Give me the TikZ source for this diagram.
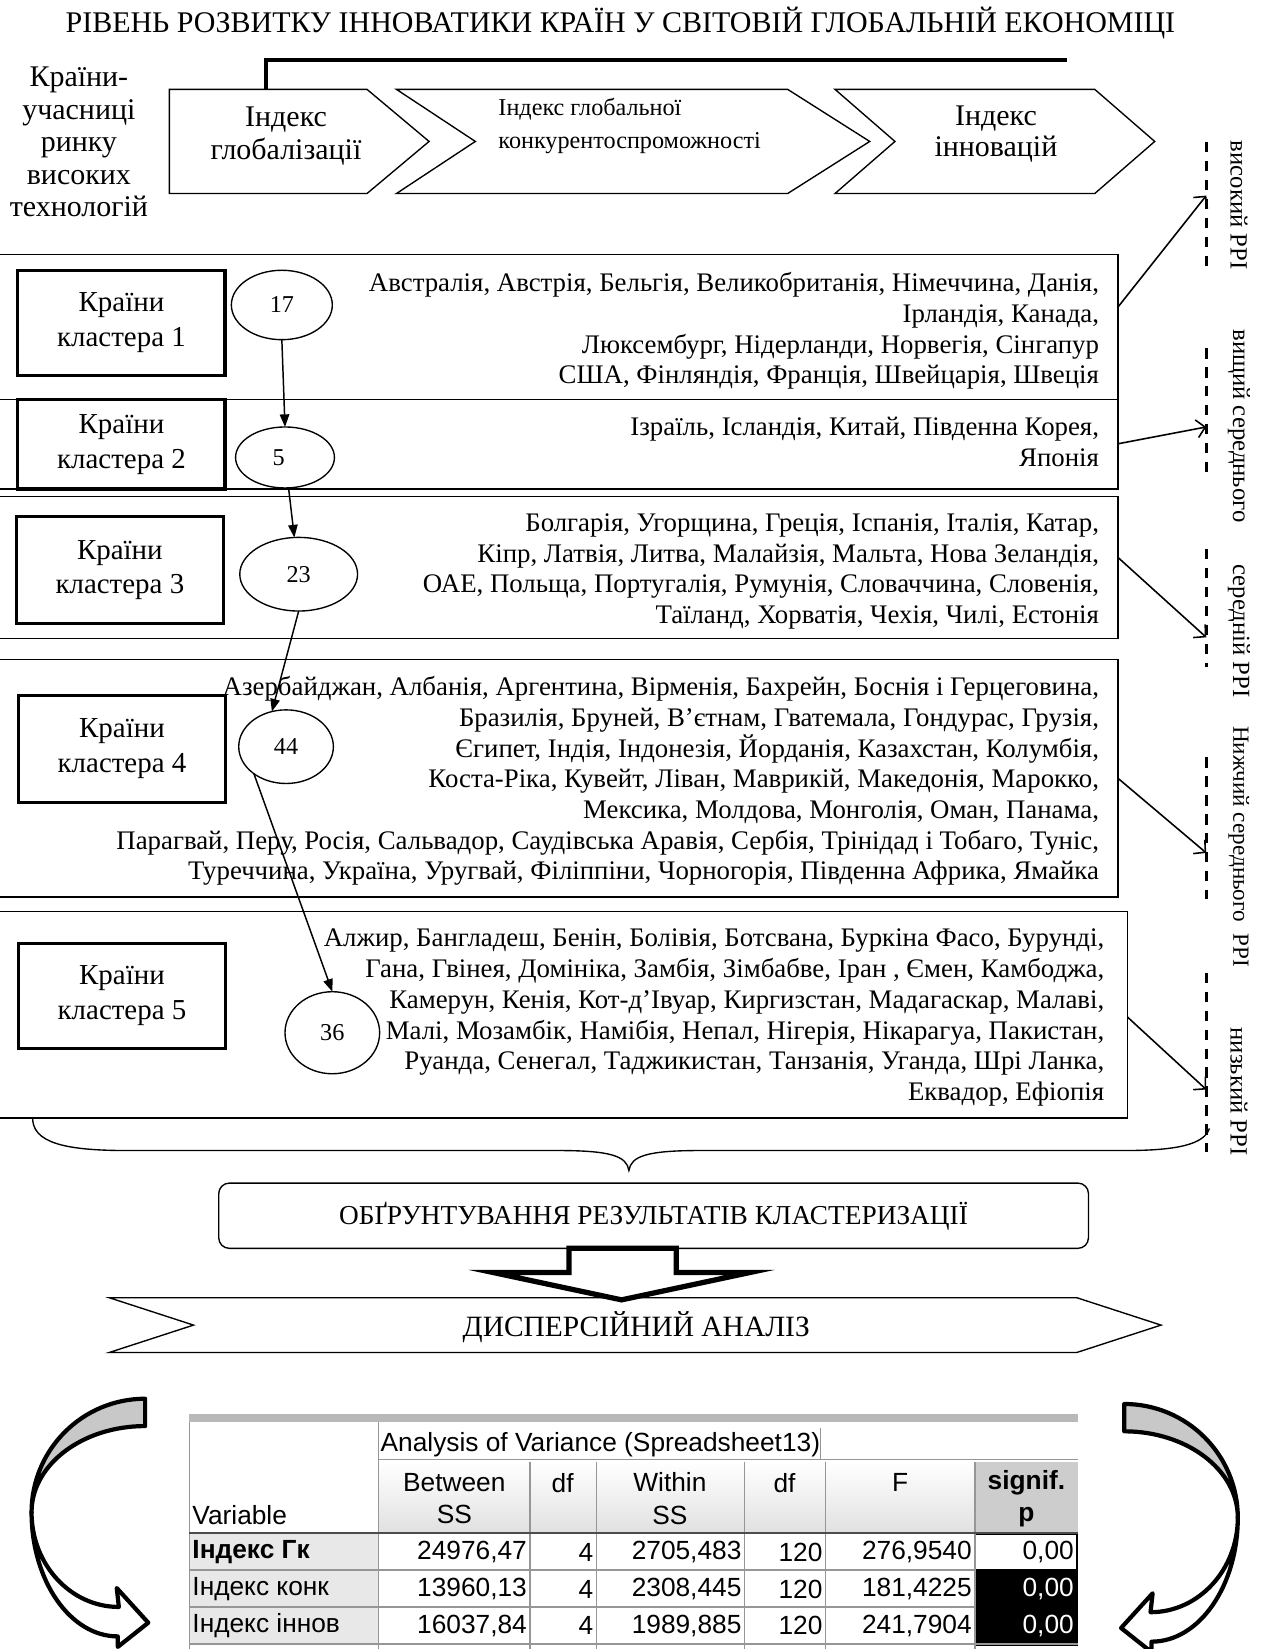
\documentclass[tikz,border=0pt]{standalone}
\usepackage{fontspec}
\setmainfont{Liberation Serif}
\newfontfamily\tabfont{Liberation Sans}
\usetikzlibrary{shapes.geometric,arrows.meta,calc}
\definecolor{bandgrey}{RGB}{200,200,200}
\definecolor{gridgrey}{RGB}{150,150,150}
\definecolor{cellgrey}{RGB}{232,232,232}
\definecolor{pgrey}{RGB}{205,205,205}

\begin{document}
\begin{tikzpicture}[x=1pt,y=-1pt,
  every node/.style={inner sep=0pt,outer sep=0pt},
  bigtext/.style={font=\fontsize{28.5}{31.5}\selectfont,align=center},
  midtext/.style={font=\fontsize{23}{31}\selectfont,align=left},
  listtext/.style={font=\fontsize{25.5}{29.2}\selectfont,align=right,anchor=north east},
  bandbox/.style={draw,line width=1.3pt,rectangle},
  clusterbox/.style={draw,line width=3pt,minimum width=197pt,font=\fontsize{27.5}{33}\selectfont,align=center},
  countnode/.style={draw,ellipse,line width=1.3pt,font=\fontsize{23}{26}\selectfont},
  flowarrow/.style={line width=1.4pt,-{Triangle[length=12pt,width=9pt]}},
  levelarrow/.style={line width=1.5pt,-{Straight Barb[length=8pt,width=17pt,line width=1.5pt]}},
  guideline/.style={line width=2.6pt,dash pattern=on 10pt off 8pt},
  sidetext/.style={rotate=-90,font=\fontsize{23.5}{28}\selectfont},
  captext/.style={font=\fontsize{26}{30}\selectfont},
  tabtext/.style={font=\tabfont\fontsize{25}{31}\selectfont},
  tabbold/.style={font=\tabfont\bfseries\fontsize{25}{31}\selectfont},
  bentarrow/.style={line width=4pt,line join=round},
]
\useasboundingbox (0,0) rectangle (1201,1568);
\clip (0,0) rectangle (1201,1568);
\fill[white] (0,0) rectangle (1201,1568);

% ---------- heading ----------
\node[bigtext] (title) at (590,22) {РІВЕНЬ РОЗВИТКУ ІННОВАТИКИ КРАЇН У СВІТОВІЙ ГЛОБАЛЬНІЙ ЕКОНОМІЦІ};
\node[bigtext,font=\fontsize{28.5}{31}\selectfont] (members) at (75,135) {Країни-\\учасниці\\ринку\\високих\\технологій};

% ---------- index chevrons ----------
\draw[line width=1.3pt] (161,85) -- (349,85) -- (408,134.5) -- (349,184) -- (161,184) -- cycle;
\draw[line width=1.3pt] (377,85) -- (749,85) -- (827,134.5) -- (749,184) -- (377,184) -- (452,134.5) -- cycle;
\draw[line width=1.3pt] (794,85) -- (1041,85) -- (1098,134.5) -- (1041,184) -- (794,184) -- (851,134.5) -- cycle;
\draw[line width=3pt] (253,85) -- (253,57) -- (1015,57);
\node[bigtext] (iglob) at (272,129) {Індекс\\глобалізації};
\node[midtext,anchor=west] (icomp) at (474,120) {Індекс глобальної\\конкурентоспроможності};
\node[bigtext,font=\fontsize{28.5}{30}\selectfont] (iinn) at (947,127.5) {Індекс\\інновацій};

% ---------- cluster bands ----------
\node[bandbox,minimum width=1083pt,minimum height=138pt] (band1) at (521.5,311) {};
\node[bandbox,minimum width=1083pt,minimum height=85pt] (band2) at (521.5,422.5) {};
\node[bandbox,minimum width=1083pt,minimum height=135pt] (band3) at (521.5,539.5) {};
\node[bandbox,minimum width=1083pt,minimum height=226pt] (band4) at (521.5,740) {};
\node[bandbox,minimum width=1092pt,minimum height=196pt] (band5) at (526,965) {};

\node[clusterbox,minimum height=100pt] (k1) at (115.5,307) {Країни\\кластера 1};
\node[clusterbox,minimum height=85pt] (k2) at (115.5,422.5) {Країни\\кластера 2};
\node[clusterbox,minimum height=102pt] (k3) at (114,542) {Країни\\кластера 3};
\node[clusterbox,minimum height=102pt] (k4) at (116,712) {Країни\\кластера 4};
\node[clusterbox,minimum height=100pt] (k5) at (116,947) {Країни\\кластера 5};

\node[listtext] (list1) at (1045,257) {\strut Австралія, Австрія, Бельгія, Великобританія, Німеччина, Данія,\\Ірландія, Канада,\\Люксембург, Нідерланди, Норвегія, Сінгапур\\США, Фінляндія, Франція, Швейцарія, Швеція};
\node[listtext] (list2) at (1045,394) {\strut Ізраїль, Ісландія, Китай, Південна Корея,\\Японія};
\node[listtext] (list3) at (1045,485) {\strut Болгарія, Угорщина, Греція, Іспанія, Італія, Катар,\\Кіпр, Латвія, Литва, Малайзія, Мальта, Нова Зеландія,\\ОАЕ, Польща, Португалія, Румунія, Словаччина, Словенія,\\Таїланд, Хорватія, Чехія, Чилі, Естонія};
\node[listtext] (list4) at (1045,641) {\strut Азербайджан, Албанія, Аргентина, Вірменія, Бахрейн, Боснія і Герцеговина,\\Бразилія, Бруней, В'єтнам, Гватемала, Гондурас, Грузія,\\Єгипет, Індія, Індонезія, Йорданія, Казахстан, Колумбія,\\Коста-Ріка, Кувейт, Ліван, Маврикій, Македонія, Марокко,\\Мексика, Молдова, Монголія, Оман, Панама,\\Парагвай, Перу, Росія, Сальвадор, Саудівська Аравія, Сербія, Трінідад і Тобаго, Туніс,\\Туреччина, Україна, Уругвай, Філіппіни, Чорногорія, Південна Африка, Ямайка};
\node[listtext] (list5) at (1050,880) {\strut Алжир, Бангладеш, Бенін, Болівія, Ботсвана, Буркіна Фасо, Бурунді,\\Гана, Гвінея, Домініка, Замбія, Зімбабве, Іран , Ємен, Камбоджа,\\Камерун, Кенія, Кот-д'Івуар, Киргизстан, Мадагаскар, Малаві,\\Малі, Мозамбік, Намібія, Непал, Нігерія, Нікарагуа, Пакистан,\\Руанда, Сенегал, Таджикистан, Танзанія, Уганда, Шрі Ланка,\\Еквадор, Ефіопія};

% ---------- cluster sizes ----------
\node[countnode,minimum width=96pt,minimum height=66pt] (e1) at (268,290) {17};
\node[countnode,minimum width=94pt,minimum height=58pt] (e2) at (271,435) {5\hspace*{12pt}};
\node[countnode,minimum width=112pt,minimum height=70pt] (e3) at (284,546) {23};
\node[countnode,minimum width=90pt,minimum height=70pt] (e4) at (272,710) {44};
\node[countnode,minimum width=90pt,minimum height=78pt] (e5) at (316,982) {36};
\draw[flowarrow] (e1.south) -- (e2.north);
\draw[flowarrow] (e2) -- (e3);
\draw[flowarrow] (e3.south) -- (e4.112);
\draw[flowarrow] (e4.220) -- (e5.north);

% ---------- innovation levels ----------
\draw[guideline] (1147,135) -- (1147,254);
\draw[guideline] (1147,331) -- (1147,452);
\draw[guideline] (1147,522) -- (1147,634);
\draw[guideline] (1147,720) -- (1147,855);
\draw[guideline] (1147,925) -- (1147,1095);
\coordinate (v1) at (1147,186);
\coordinate (v2) at (1147,406);
\coordinate (v3) at (1147,606);
\coordinate (v4) at (1147,811);
\coordinate (v5) at (1147,1036);
\draw[levelarrow] ($(band1.north east)+(0,50)$) -- (v1);
\draw[levelarrow] ($(band2.north east)+(0,42)$) -- (v2);
\draw[levelarrow] ($(band3.north east)+(0,58)$) -- (v3);
\draw[levelarrow] ($(band4.north east)+(0,113)$) -- (v4);
\draw[levelarrow] ($(band5.north east)+(0,100)$) -- (v5);
\node[sidetext] (s1) at (1178,195) {високий РРІ};
\node[sidetext] (s2) at (1178,405) {вищий середнього};
\node[sidetext] (s3) at (1178,600) {середній РРІ};
\node[sidetext,font=\fontsize{22}{26}\selectfont] (s4) at (1178,805) {Нижчий середнього\ \ РРІ};
\node[sidetext] (s5) at (1178,1038) {низький РРІ};

% ---------- brace and justification ----------
\draw[line width=1.3pt] (31,1063) .. controls (31,1086) and (60,1094) .. (120,1094) -- (530,1094)
  .. controls (580,1094) and (596,1099) .. (598,1113)
  .. controls (600,1099) and (616,1094) .. (666,1094) -- (1070,1094)
  .. controls (1120,1094) and (1145,1088) .. (1150,1073);
\node[draw,rounded corners=10pt,line width=1.3pt,minimum width=827pt,minimum height=62pt,captext] (just) at (621.5,1156) {ОБҐРУНТУВАННЯ РЕЗУЛЬТАТІВ КЛАСТЕРИЗАЦІЇ};
\draw[line width=5pt,line join=miter,fill=white] (541,1187) -- (643,1187) -- (643,1210) -- (713,1210) -- (591,1236) -- (469,1210) -- (541,1210) -- cycle;
\draw[line width=1.3pt] (104,1234) -- (1024,1234) -- (1104,1260) -- (1024,1286) -- (104,1286) -- (184,1260) -- cycle;
\node[captext,font=\fontsize{28}{30}\selectfont] (disp) at (605,1262) {ДИСПЕРСІЙНИЙ АНАЛІЗ};

% ---------- ANOVA table ----------
\fill[gray!55] (180,1345) rectangle (1025,1352);
\shade[top color=white,bottom color=black!12] (360,1390) rectangle (927,1458);
\fill[pgrey] (927,1390) rectangle (1025,1458);
\fill[cellgrey] (180,1458) rectangle (360,1563);
\draw[line width=2pt,fill=white] (927,1459) rectangle (1024,1493);
\fill[black] (927,1494) rectangle (1025,1565);
\draw[gridgrey,line width=1.2pt] (180,1352) -- (180,1568);
\draw[gridgrey,line width=1.2pt] (360,1352) -- (360,1568);
\draw[gridgrey,line width=1.2pt] (360,1388) -- (1025,1388);
\draw[gridgrey,line width=1.2pt] (780,1358) -- (780,1388);
\foreach \cx in {504,567,708,785,927}
  \draw[gridgrey,line width=1.2pt] (\cx,1390) -- (\cx,1568);
\draw[black!70,line width=1.6pt] (180,1458) -- (1025,1458);
\draw[gridgrey,line width=1.6pt] (180,1493) -- (927,1493);
\draw[gridgrey,line width=1.6pt] (180,1528) -- (927,1528);
\draw[gridgrey,line width=1.6pt] (180,1563) -- (1025,1563);

\node[tabtext,anchor=west] (anova) at (362,1374) {Analysis of Variance (Spreadsheet13)};
\node[tabtext,anchor=west] (hvar) at (183,1441) {Variable};
\node[tabtext,align=center] (hbss) at (432,1425) {Between\\SS};
\node[tabtext] (hdf1) at (535,1410) {df};
\node[tabtext,align=center] (hwss) at (637,1425) {Within\\SS};
\node[tabtext] (hdf2) at (746,1410) {df};
\node[tabtext] (hf) at (856,1410) {F};
\node[tabbold,align=center] (hp) at (976,1425) {signif.\\p};

\node[tabbold,anchor=west] (r1) at (183,1476) {Індекс Гк};
\node[tabtext,anchor=west] (r2) at (183,1511) {Індекс конк};
\node[tabtext,anchor=west] (r3) at (183,1546) {Індекс іннов};

\node[tabtext,anchor=east] (r1a) at (501,1476) {24976,47};
\node[tabtext,anchor=east] (r1b) at (564,1476) {4};
\node[tabtext,anchor=east] (r1c) at (705,1476) {2705,483};
\node[tabtext,anchor=east] (r1d) at (782,1476) {120};
\node[tabtext,anchor=east] (r1e) at (924,1476) {276,9540};
\node[tabtext,anchor=east] (r1f) at (1021,1476) {0,00};

\node[tabtext,anchor=east] (r2a) at (501,1511) {13960,13};
\node[tabtext,anchor=east] (r2b) at (564,1511) {4};
\node[tabtext,anchor=east] (r2c) at (705,1511) {2308,445};
\node[tabtext,anchor=east] (r2d) at (782,1511) {120};
\node[tabtext,anchor=east] (r2e) at (924,1511) {181,4225};
\node[tabtext,anchor=east,text=white] (r2f) at (1021,1511) {0,00};

\node[tabtext,anchor=east] (r3a) at (501,1546) {16037,84};
\node[tabtext,anchor=east] (r3b) at (564,1546) {4};
\node[tabtext,anchor=east] (r3c) at (705,1546) {1989,885};
\node[tabtext,anchor=east] (r3d) at (782,1546) {120};
\node[tabtext,anchor=east] (r3e) at (924,1546) {241,7904};
\node[tabtext,anchor=east,text=white] (r3f) at (1021,1546) {0,00};

% ---------- curved arrows beside the table ----------
\begin{scope}
  \filldraw[bentarrow,fill=bandgrey] (138,1330) .. controls (78.4,1330) and (30,1378.4) .. (30,1438)
    .. controls (30,1392.7) and (78.4,1356) .. (138,1356) -- cycle;
  \filldraw[bentarrow,fill=white] (30,1438) .. controls (30,1503) and (66.7,1556) .. (112,1556)
    -- (112,1566) -- (141,1543) -- (111,1510) -- (113,1528)
    .. controls (67.2,1528) and (30,1487.7) .. (30,1438) -- cycle;
\end{scope}
\begin{scope}[xshift=1207pt,xscale=-1,yshift=-5pt]
  \filldraw[bentarrow,fill=bandgrey] (138,1330) .. controls (78.4,1330) and (30,1378.4) .. (30,1438)
    .. controls (30,1392.7) and (78.4,1356) .. (138,1356) -- cycle;
  \filldraw[bentarrow,fill=white] (30,1438) .. controls (30,1503) and (66.7,1556) .. (112,1556)
    -- (112,1566) -- (141,1543) -- (111,1510) -- (113,1528)
    .. controls (67.2,1528) and (30,1487.7) .. (30,1438) -- cycle;
\end{scope}
\end{tikzpicture}
\end{document}
